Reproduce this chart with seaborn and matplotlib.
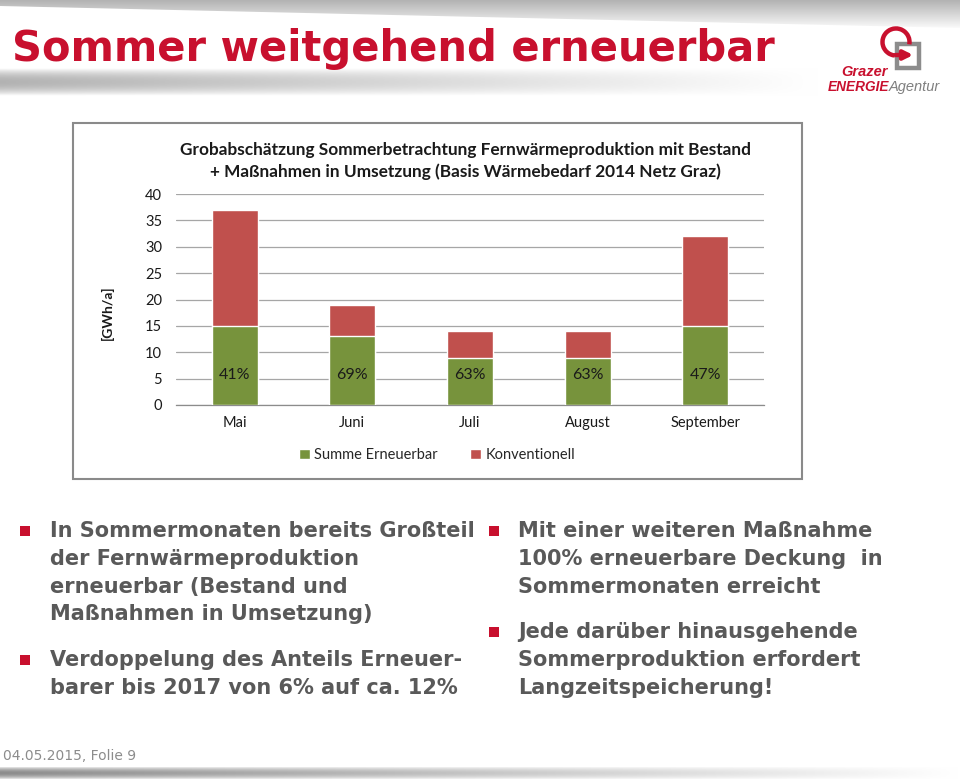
"""
Folie 9 - Sommer weitgehend erneuerbar: stacked bars of summer district heating production.
"""
import numpy as np
import pandas as pd
import matplotlib
matplotlib.use("Agg")
import matplotlib.pyplot as plt
from matplotlib.patches import Rectangle, Polygon, Patch, FancyArrowPatch, Arc
import seaborn as sns

# data
months = ["Mai", "Juni", "Juli", "August", "September"]
erneuerbar = [15.0, 13.1, 9.0, 9.0, 15.0]
konventionell = [22.0, 5.9, 5.0, 5.0, 17.0]
anteil_labels = ["41%", "69%", "63%", "63%", "47%"]
y_ticks = [0, 5, 10, 15, 20, 25, 30, 35, 40]

chart_title = ("Grobabschätzung Sommerbetrachtung Fernwärmeproduktion mit Bestand\n"
               "+ Maßnahmen in Umsetzung (Basis Wärmebedarf 2014 Netz Graz)")
left_bullets = [
    ["In Sommermonaten bereits Großteil", "der Fernwärmeproduktion",
     "erneuerbar (Bestand und", "Maßnahmen in Umsetzung)"],
    ["Verdoppelung des Anteils Erneuer-", "barer bis 2017 von 6% auf ca. 12%"],
]
right_bullets = [
    ["Mit einer weiteren Maßnahme", "100% erneuerbare Deckung  in",
     "Sommermonaten erreicht"],
    ["Jede darüber hinausgehende", "Sommerproduktion erfordert",
     "Langzeitspeicherung!"],
]

GREEN = "#77933c"
RED = "#c0504d"
BRAND = "#c8102e"
TEXT_GRAY = "#595959"

df = pd.DataFrame({"Monat": months,
                   "Summe Erneuerbar": erneuerbar,
                   "Konventionell": konventionell})
df["Gesamt"] = df["Summe Erneuerbar"] + df["Konventionell"]

sns.set_style("white")
plt.rcParams["font.family"] = ["DejaVu Sans"]

fig = plt.figure(figsize=(9.6, 7.82), dpi=100)

# ---- slide background / decoration, pixel coordinates ----
bg = fig.add_axes([0, 0, 1, 1], zorder=0)
bg.axis("off")

# top grey wedge
grad = np.linspace(0.70, 1.0, 64)[:, None] * np.ones((1, 4))
img = bg.imshow(np.dstack([grad] * 3), extent=(0, 960, 30, 0), aspect="auto", zorder=0)
wedge = Polygon([(0, 0), (960, 0), (960, 28), (0, 6)], facecolor="none", edgecolor="none")
bg.add_patch(wedge)
img.set_clip_path(wedge)

# grey band under title, fading to the right
xs = np.linspace(0, 1, 200)
ys = np.linspace(-1, 1, 40)
band = 1 - 0.30 * np.clip(1 - xs / 0.85, 0, 1)[None, :] * (1 - ys[:, None] ** 2)
bg.imshow(np.dstack([band] * 3), extent=(0, 960, 96, 68), aspect="auto", zorder=0)

# footer band
fb = 1 - 0.45 * np.clip(1 - xs, 0, 1)[None, :] * (1 - np.linspace(-1, 1, 12)[:, None] ** 2)
bg.imshow(np.dstack([fb] * 3), extent=(0, 960, 780, 766), aspect="auto", zorder=0)
bg.set_xlim(0, 960)
bg.set_ylim(782, 0)

# slide title
bg.text(12, 49, "Sommer weitgehend erneuerbar", fontsize=30, fontweight="bold",
        color=BRAND, va="center", ha="left")

# logo
bg.add_patch(Rectangle((897, 44), 22, 24, facecolor="none", edgecolor="#8c8c8c", lw=3.2))
bg.add_patch(Arc((896, 42), 27, 27, theta1=95, theta2=370, color=BRAND, lw=3.2))
bg.add_patch(FancyArrowPatch((893, 55), (916, 55), arrowstyle="-|>", mutation_scale=13,
                             color=BRAND, lw=3.2))
bg.text(888, 72, "Grazer", fontsize=10.5, fontweight="bold", style="italic",
        color=BRAND, ha="right", va="center", family="Liberation Sans")
bg.text(889, 87, "ENERGIE", fontsize=9.8, fontweight="bold", style="italic",
        color=BRAND, ha="right", va="center", family="Liberation Sans")
bg.text(889, 87, "Agentur", fontsize=10.5, style="italic",
        color="#7f7f7f", ha="left", va="center", family="Liberation Sans")

# chart frame
bg.add_patch(Rectangle((73, 123), 729, 356, facecolor="white", edgecolor="#8a8a8a", lw=1.5))

# chart title and y label
bg.text(465, 161, chart_title, fontsize=12.4, fontweight="bold", family="Lato",
        ha="center", va="center", linespacing=1.35, color="#1a1a1a")
bg.text(107, 313, "[GWh/a]", fontsize=10, fontweight="bold", family="Lato",
        rotation=90, ha="center", va="center", color="#1a1a1a")

# bullets
def draw_bullets(groups, x_sq, x_txt, starts):
    for lines, y0 in zip(groups, starts):
        bg.add_patch(Rectangle((x_sq, y0 - 5), 10, 10, facecolor=BRAND, edgecolor="none"))
        for k, line in enumerate(lines):
            bg.text(x_txt, y0 + k * 27.8, line, fontsize=15, fontweight="bold",
                    color=TEXT_GRAY, ha="left", va="center")

draw_bullets(left_bullets, 20, 50, [531, 660])
draw_bullets(right_bullets, 489, 518, [531, 632])

bg.text(3, 756, "04.05.2015, Folie 9", fontsize=10, color="#8c8c8c",
        ha="left", va="center")

# ---- the chart ----
ax = fig.add_axes([176 / 960, 1 - 405 / 782, 588 / 960, 211 / 782], zorder=1)
ax.set_facecolor("none")
sns.barplot(data=df, x="Monat", y="Gesamt", color=RED, saturation=1, width=0.39,
            errorbar=None, ax=ax, zorder=2)
sns.barplot(data=df, x="Monat", y="Summe Erneuerbar", color=GREEN, saturation=1,
            width=0.39, errorbar=None, ax=ax, zorder=3)

for i, lab in enumerate(anteil_labels):
    ax.text(i, 5.6, lab, ha="center", va="center", fontsize=11.5, family="Lato",
            color="#1a1a1a", zorder=4)

ax.set_xlim(-0.5, len(months) - 0.5)
ax.set_ylim(0, 40)
ax.set_yticks(y_ticks)
ax.yaxis.grid(True, color="#a6a6a6", lw=0.9)
ax.set_axisbelow(True)
ax.set_xlabel("")
ax.set_ylabel("")
for side in ["top", "right", "left"]:
    ax.spines[side].set_visible(False)
ax.spines["bottom"].set_color("#8c8c8c")
ax.spines["bottom"].set_linewidth(0.9)

ax.set_xticks(np.arange(-0.5, len(months), 1.0), minor=True)
ax.tick_params(axis="x", which="major", length=0, pad=8, labelsize=10.5, labelcolor="#1a1a1a")
ax.tick_params(axis="x", which="minor", length=5, color="#8c8c8c", width=0.9)
ax.tick_params(axis="y", length=4, color="#a6a6a6", width=0.9, pad=6,
               labelsize=10.5, labelcolor="#1a1a1a")
for t in ax.get_xticklabels() + ax.get_yticklabels():
    t.set_family("Lato")

handles = [Patch(facecolor=GREEN, label="Summe Erneuerbar"),
           Patch(facecolor=RED, label="Konventionell")]
leg = ax.legend(handles=handles, loc="center", ncol=2, frameon=False,
                bbox_to_anchor=(437 / 960, 1 - 455 / 782), bbox_transform=fig.transFigure,
                handlelength=0.75, handleheight=0.75, handletextpad=0.3, columnspacing=2.2,
                prop={"family": "Lato", "size": 10.5})

fig.savefig("out.png", dpi=100)
